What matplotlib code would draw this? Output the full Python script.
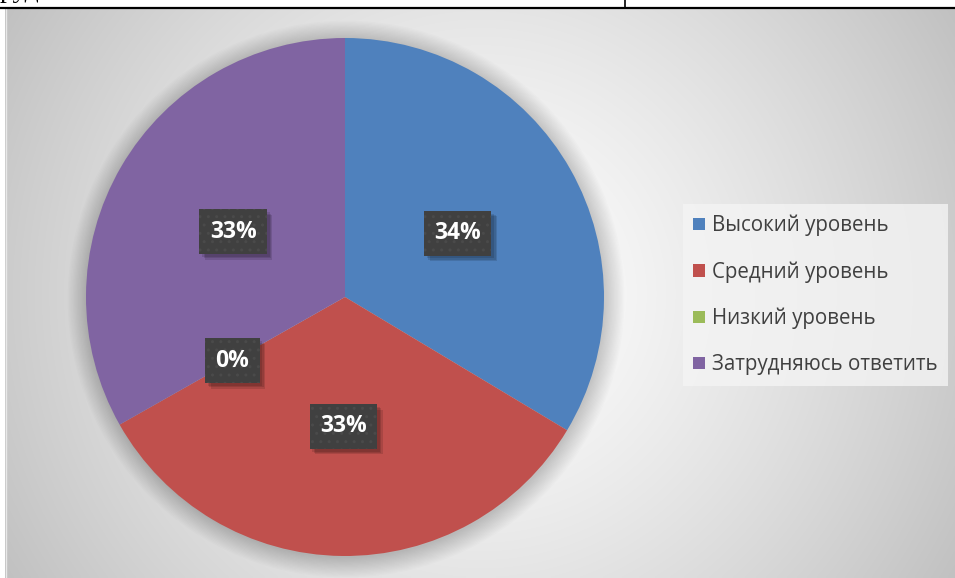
import numpy as np
import matplotlib.pyplot as plt
from matplotlib.patches import Patch, Circle
from matplotlib.transforms import offset_copy

# data
labels = ['Высокий уровень', 'Средний уровень', 'Низкий уровень', 'Затрудняюсь ответить']
values = [33.6, 33.2, 0, 33.2]
colors = ['#4F81BD', '#C0504D', '#9BBB59', '#8064A2']

W, H = 955, 578
fig = plt.figure(figsize=(W / 100, H / 100), dpi=100)

# background / page decoration in pixel coords
bg = fig.add_axes([0, 0, 1, 1])
bg.axis('off')

xx, yy = np.meshgrid(np.arange(5, W), np.arange(9, H))
r = np.hypot(xx - 480, yy - 294) / 553
grad = 255 - 62 * r ** 1.3
bg.imshow(np.dstack([grad, grad, grad]).astype(np.uint8), extent=(5, W, H, 9),
          interpolation='bilinear', aspect='auto')
bg.plot([5.5, 5.5], [9, H], color='#e8e8e8', lw=1)
bg.plot([0, W], [8, 8], color='black', lw=1.6)
bg.plot([625, 625], [0, 8], color='black', lw=1.2)
bg.set_xlim(0, W)
bg.set_ylim(H, 0)
fig.text(0.0, 1 + 3 / H, 'руд', family='Liberation Serif', fontsize=20, va='baseline', ha='left')

# pie
ax = fig.add_axes([86 / W, 22 / H, 518 / W, 518 / H])

wedges, _ = ax.pie(values, colors=colors, startangle=90, counterclock=False,
                   radius=1, wedgeprops=dict(linewidth=0))
for w in wedges:
    w.set_zorder(2)
ax.set_xlim(-1, 1)
ax.set_ylim(-1, 1)
ax.set_aspect('equal')
ax.axis('off')

# soft shadow around the pie
for i in range(16):
    ax.add_patch(Circle((0.004, -0.008), 1.0 + 0.005 * i, color='black', alpha=0.01,
                        lw=0, clip_on=False, zorder=0))

total = sum(values)
start = 90
for v in values:
    ang = np.deg2rad(start - v / total * 180)
    start -= v / total * 360
    x, y = 0.5 * np.cos(ang), 0.5 * np.sin(ang)
    txt = '{:.0f}%'.format(v / total * 100)
    for k in range(3):
        sh = offset_copy(ax.transData, fig=fig, x=2 + k, y=-2 - k, units='points')
        ax.text(x, y, txt, transform=sh, ha='center', va='center', fontsize=16.5,
                family='Open Sans', weight='bold', color=(0, 0, 0, 0), zorder=3,
                bbox=dict(boxstyle='square,pad=0.45', facecolor='black', alpha=0.12, lw=0))
    ax.text(x, y, txt, ha='center', va='center', fontsize=16.5, family='Open Sans',
            weight='bold', color='white', zorder=4,
            bbox=dict(boxstyle='square,pad=0.45', facecolor='#404040', edgecolor='#4a4a4a',
                      hatch='..', lw=0))

handles = [Patch(facecolor=c, edgecolor='none') for c in colors]
leg = fig.legend(handles, labels, loc='center left', bbox_to_anchor=(683 / W, 1 - 295 / H),
                 frameon=True, fancybox=False, prop={'family': 'Open Sans', 'size': 14.8},
                 handlelength=0.55, handleheight=0.55, handletextpad=0.35,
                 labelspacing=1.22, borderpad=0.5, borderaxespad=0)
leg.get_frame().set_facecolor('#f4f4f4')
leg.get_frame().set_edgecolor('none')
leg.get_frame().set_alpha(0.8)
for t in leg.get_texts():
    t.set_color('#404040')

fig.savefig('out.png', dpi=100)
